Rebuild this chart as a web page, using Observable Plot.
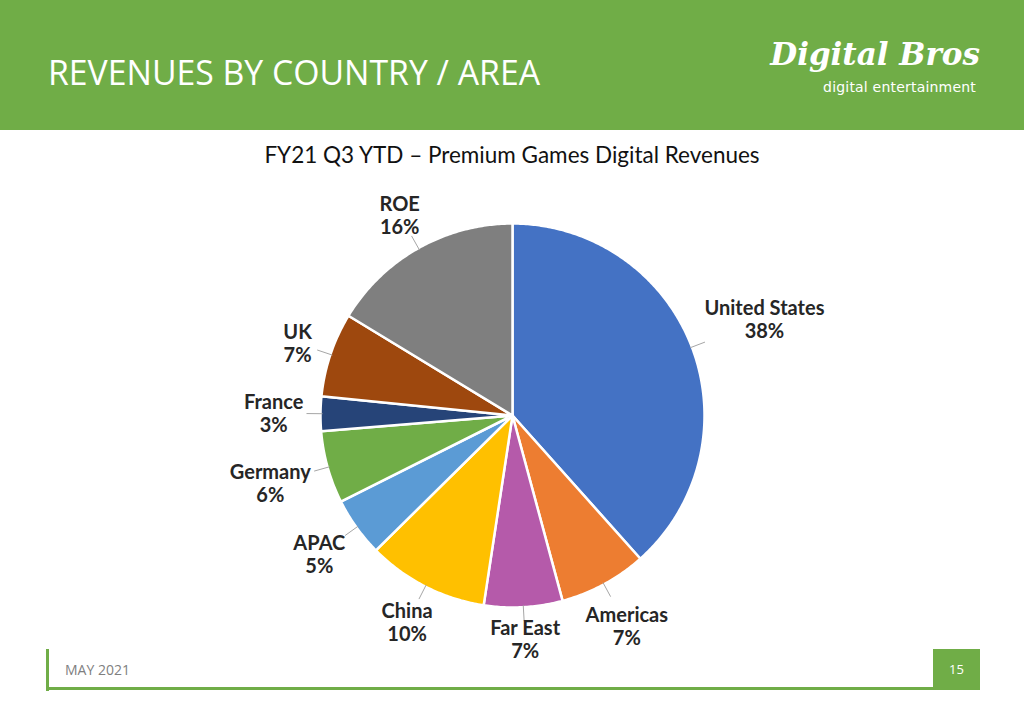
<!DOCTYPE html>
<html>
<head>
<meta charset="utf-8">
<script src="https://cdn.jsdelivr.net/npm/d3@7"></script>
<script src="https://cdn.jsdelivr.net/npm/@observablehq/plot@0.6"></script>
<style>
  html, body { margin: 0; padding: 0; background: #ffffff; }
  #slide { position: relative; width: 1024px; height: 723px; overflow: hidden; background: #fff; font-family: Lato, "Open Sans", sans-serif; }
  #header { position: absolute; left: 0; top: 0; width: 1024px; height: 130px; background: #70AD47; }
  #htitle { position: absolute; left: 48px; top: 48px; color: #fff; font-family: "Open Sans", sans-serif; font-size: 35px; font-weight: 400; white-space: nowrap; transform-origin: left top; }
  #logo1 { position: absolute; right: 44px; top: 36px; color: #fff; font-family: "DejaVu Serif", serif; font-style: italic; font-weight: bold; font-size: 31px; white-space: nowrap; }
  #logo2 { position: absolute; right: 48px; top: 79px; color: #fff; font-family: "DejaVu Sans", sans-serif; font-size: 14px; white-space: nowrap; letter-spacing: 0.2px; }
  #chart { position: absolute; left: 0; top: 130px; }
  #ctitle { position: absolute; left: 0; width: 1024px; top: 141px; text-align: center; font-family: Lato, sans-serif; font-size: 22.5px; color: #111; }
  #fvline { position: absolute; left: 46px; top: 649px; width: 3px; height: 42px; background: #70AD47; }
  #fhline { position: absolute; left: 46px; top: 687px; width: 934px; height: 3px; background: #70AD47; }
  #fbox { position: absolute; left: 933px; top: 649px; width: 47px; height: 41px; background: #70AD47; color: #fff; font-family: "Open Sans", sans-serif; font-size: 13px; text-align: center; line-height: 41px; }
  #fdate { position: absolute; left: 65px; top: 660px; color: #7f7f7f; font-family: "Liberation Sans Narrow", "Open Sans", sans-serif; font-size: 14px; }
</style>
</head>
<body>
<div id="slide">
  <div id="header">
    <div id="htitle">REVENUES BY COUNTRY / AREA</div>
    <div id="logo1">Digital Bros</div>
    <div id="logo2">digital entertainment</div>
  </div>
  <div id="chart"></div>
  <div id="ctitle">FY21 Q3 YTD – Premium Games Digital Revenues</div>
  <div id="fvline"></div>
  <div id="fhline"></div>
  <div id="fdate">MAY 2021</div>
  <div id="fbox">15</div>
</div>
<script>
// ---- data ----
const names = ["United States", "Americas", "Far East", "China", "APAC", "Germany", "France", "UK", "ROE"];
const shares = [38.4, 7.4, 6.6, 10.2, 5.0, 6.1, 2.9, 7.1, 16.3];
const pctLabels = ["38%", "7%", "7%", "10%", "5%", "6%", "3%", "7%", "16%"];
const sliceColors = ["#4472C4", "#ED7D31", "#B55AAA", "#FFC000", "#5B9BD5", "#70AD47", "#264478", "#9E480E", "#7F7F7F"];

// header title: fit to the reference width
(function () {
  const el = document.getElementById("htitle");
  const w = el.getBoundingClientRect().width;
  el.style.transform = "scaleX(" + (492 / w) + ")";
})();

// ---- geometry (derived from data) ----
const R = 192;           // pie radius in plot units (1 unit = 1 px)
const labelFont = "bold 20px Lato";
const ctx = document.createElement("canvas").getContext("2d");
ctx.font = labelFont;

const arcs = d3.pie().sort(null).value(d => d.v)(names.map((n, i) => ({n, v: shares[i], p: pctLabels[i]})));

const slicePts = [];
const leaders = [];
const labels = [];
arcs.forEach(a => {
  const n = a.data.n;
  slicePts.push({name: n, x: 0, y: 0});
  const steps = Math.max(2, Math.ceil((a.endAngle - a.startAngle) / 0.01));
  for (let k = 0; k <= steps; k++) {
    const t = a.startAngle + (a.endAngle - a.startAngle) * k / steps;
    slicePts.push({name: n, x: R * Math.sin(t), y: R * Math.cos(t)});
  }
  slicePts.push({name: n, x: 0, y: 0});

  const m = (a.startAngle + a.endAngle) / 2;
  const s = Math.sin(m), c = Math.cos(m);
  const w = Math.max(ctx.measureText(n).width, ctx.measureText(a.data.p).width) / 2;
  const h = 13;
  const gap = 17;
  const ext = Math.abs(s) * w + Math.abs(c) * h;
  const rl = R + gap + ext;
  labels.push({name: n, x: rl * s, y: rl * c, text: n + "\n" + a.data.p});
  leaders.push({name: n, x1: (R - 2) * s, y1: (R - 2) * c, x2: (R + gap - 3) * s, y2: (R + gap - 3) * c});
});

const chart = Plot.plot({
  width: 1024,
  height: 540,
  margin: 0,
  x: {domain: [-512, 512], axis: null},
  y: {domain: [-255, 285], axis: null},
  color: {domain: names, range: sliceColors},
  marks: [
    Plot.line(slicePts, {x: "x", y: "y", z: "name", fill: "name", stroke: "white", strokeWidth: 2.5, strokeLinejoin: "round", curve: "linear"}),
    Plot.link(leaders, {x1: "x1", y1: "y1", x2: "x2", y2: "y2", stroke: "#a6a6a6", strokeWidth: 1}),
    Plot.text(labels, {x: "x", y: "y", text: "text", fontFamily: "Lato", fontWeight: "bold", fontSize: 20, fill: "#262626", lineAnchor: "middle", lineHeight: 1.15})
  ]
});
document.getElementById("chart").appendChild(chart);
</script>
</body>
</html>
